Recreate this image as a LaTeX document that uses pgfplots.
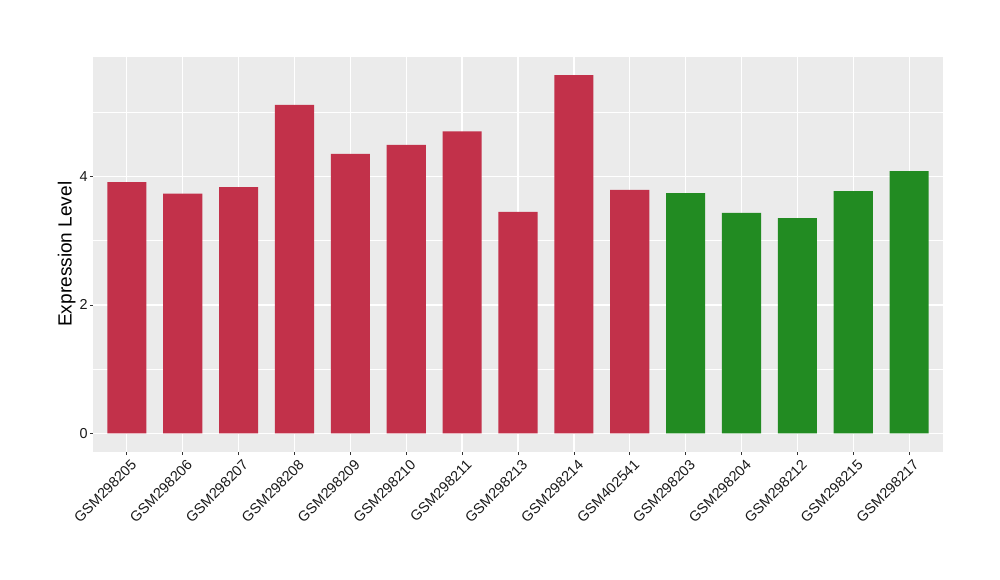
\documentclass[border=0pt]{standalone}
\usepackage{pgfplots}
\pgfplotsset{compat=1.18}
\usepackage{fontspec}
\setmainfont{Liberation Sans}
\definecolor{barred}{HTML}{C2314A}
\definecolor{bargreen}{HTML}{228B22}
\definecolor{panelbg}{HTML}{EBEBEB}
\begin{document}
\begin{tikzpicture}
\useasboundingbox (0pt,0pt) rectangle (750pt,435pt);
\begin{axis}[
  at={(69.975pt,96.225pt)}, anchor=south west,
  scale only axis,
  width=637.05pt, height=296.25pt,
  xmin=-0.6, xmax=14.6,
  ymin=-0.283, ymax=5.86,
  axis background/.style={fill=panelbg},
  axis line style={draw=none},
  xtick={0,...,14},
  xticklabels={GSM298205,GSM298206,GSM298207,GSM298208,GSM298209,GSM298210,GSM298211,GSM298213,GSM298214,GSM402541,GSM298203,GSM298204,GSM298212,GSM298215,GSM298217},
  ytick={0,2,4},
  minor ytick={1,3,5},
  xmajorgrids, ymajorgrids, yminorgrids,
  major grid style={white, line width=1pt},
  minor grid style={white, line width=0.5pt},
  tick align=outside,
  major tick length=2.6pt,
  minor tick length=0pt,
  tick style={color=black!80, line width=0.5pt},
  xtick pos=bottom, ytick pos=left,
  ticklabel style={font=\fontsize{10.8}{12}\selectfont, text=black!90},
  xticklabel style={rotate=45, anchor=north east, inner sep=1pt, yshift=-2.5pt, xshift=1pt},
  yticklabel style={inner sep=1.5pt},
  ylabel={Expression Level},
  ylabel style={font=\fontsize{14.3}{16}\selectfont, text=black, yshift=-2pt},
  /pgf/number format/assume math mode=true,
]
\addplot[ybar, bar width=0.7, bar shift=0pt, fill=barred, draw=none] coordinates {
(0,3.91) (1,3.73) (2,3.83) (3,5.11) (4,4.35) (5,4.49) (6,4.70) (7,3.445) (8,5.575) (9,3.787)
};
\addplot[ybar, bar width=0.7, bar shift=0pt, fill=bargreen, draw=none] coordinates {
(10,3.74) (11,3.43) (12,3.35) (13,3.77) (14,4.08)
};
\end{axis}
\end{tikzpicture}
\end{document}
